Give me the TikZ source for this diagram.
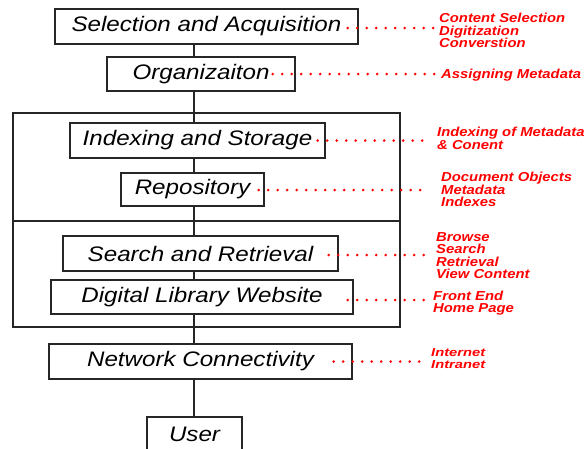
\documentclass[tikz,border=0pt]{standalone}
\usepackage{fontspec}
\usetikzlibrary{calc}
\newfontfamily\boxfam[FakeStretch=1.15]{Liberation Sans}
\newfontfamily\lblfam[FakeStretch=1.14]{Liberation Sans}
\newfontfamily\lblfamw[FakeStretch=1.28]{Liberation Sans}
\begin{document}
\begin{tikzpicture}[x=1pt,y=-1pt,
  box/.style={draw=black!85, line width=1.3pt, inner sep=0pt, text=black,
    font=\boxfam\itshape\fontsize{21}{24}\selectfont},
  frame/.style={draw=black!85, line width=1.3pt, inner sep=0pt},
  lbl/.style={text=red, anchor=west, align=left, inner sep=0pt,
    font=\lblfam\bfseries\itshape\fontsize{13}{12.5}\selectfont},
  lblsmall/.style={lbl, font=\lblfamw\bfseries\itshape\fontsize{11.5}{11.5}\selectfont},
  dots/.style={red, line width=2.8pt, line cap=round, dash pattern=on 0pt off 9.5pt},
  link/.style={draw=black!85, line width=1.3pt}]
\useasboundingbox (0,0) rectangle (587,448);
\clip (0,0) rectangle (587,448);
% frames
\node[frame, minimum width=387, minimum height=108] (upper) at (206.5,167) {};
\node[frame, minimum width=387, minimum height=106] (lower) at (206.5,274) {};
% boxes
\node[box, minimum width=303, minimum height=35] (sel) at (206.5,26.5) {Selection and Acquisition};
\node[box, minimum width=188, minimum height=34] (org) at (201,74) {Organizaiton};
\node[box, minimum width=255, minimum height=35] (idx) at (197.5,140.5) {Indexing and Storage};
\node[box, minimum width=143, minimum height=33] (repo) at (192.5,189.5) {Repository};
\node[box, minimum width=275, minimum height=35] (search) at (200.5,253.5) {Search and Retrieval};
\node[box, minimum width=302, minimum height=34] (web) at (202,297) {Digital Library Website};
\node[box, minimum width=303, minimum height=35] (net) at (200.5,361.5) {Network Connectivity};
\node[box, minimum width=95, minimum height=35] (user) at (194.5,434.5) {User};
% vertical connectors
\coordinate (axis) at (194,0);
\draw[link] (sel.south -| axis) -- (org.north -| axis);
\draw[link] (org.south -| axis) -- (idx.north -| axis);
\draw[link] (idx.south -| axis) -- (repo.north -| axis);
\draw[link] (repo.south -| axis) -- (search.north -| axis);
\draw[link] (search.south -| axis) -- (web.north -| axis);
\draw[link] (web.south -| axis) -- (net.north -| axis);
\draw[link] (net.south -| axis) -- (user.north -| axis);
% labels
\node[lbl] (lab1) at (439,30.5) {Content Selection\\Digitization\\Converstion};
\node[lbl] (lab2) at (441,75) {Assigning Metadata};
\node[lbl] (lab3) at (437,138.5) {Indexing of Metadata\\\& Conent};
\node[lbl] (lab4) at (441,189.5) {Document Objects\\Metadata\\Indexes};
\node[lbl] (lab5) at (436,255.5) {Browse\\Search\\Retrieval\\View Content};
\node[lbl] (lab6) at (433,303) {Front End\\Home Page};
\node[lblsmall] (lab7) at (431,358.5) {Internet\\Intranet};
% dotted connectors
\draw[dots] ($(sel.east)+(-11,1.5)$) -- ($(sel.east -| lab1.west)+(-2,1.5)$);
\draw[dots] ($(org.east)+(-23,0)$) -- ($(org.east -| lab2.west)+(-4,0)$);
\draw[dots] ($(idx.east)+(-8,0)$) -- ($(idx.east -| lab3.west)+(-9,0)$);
\draw[dots] ($(repo.east)+(-6,0.5)$) -- ($(repo.east -| lab4.west)+(-14,0.5)$);
\draw[dots] ($(search.east)+(-10,1.5)$) -- ($(search.east -| lab5.west)+(-8,1.5)$);
\draw[dots] ($(web.east)+(-6,3)$) -- ($(web.east -| lab6.west)+(-6,3)$);
\draw[dots] ($(net.east)+(-19,0)$) -- ($(net.east -| lab7.west)+(-6,0)$);
\end{tikzpicture}
\end{document}
